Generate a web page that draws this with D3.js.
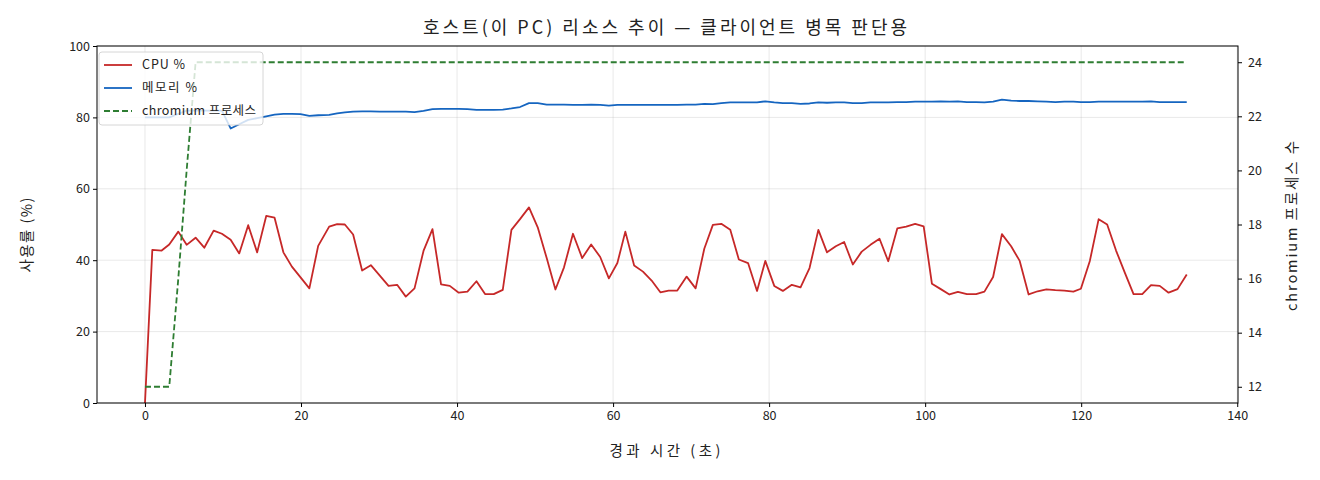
<!DOCTYPE html>
<html>
<head>
<meta charset="utf-8">
<script src="https://cdn.jsdelivr.net/npm/d3@7"></script>
<style>
  html, body { margin: 0; padding: 0; background: #fff; }
  svg text { font-family: "Noto Sans CJK KR", "Noto Sans", sans-serif; fill: #222; }
</style>
</head>
<body>
<svg id="chart" width="1320" height="480"></svg>
<script>
// ---- data ----
const times = [0.00,0.94,2.14,3.11,4.27,5.34,6.49,7.60,8.80,9.86,10.98,12.08,13.23,14.38,15.54,16.61,17.74,18.83,19.94,21.07,
  22.20,23.61,24.63,25.62,26.68,27.83,28.95,30.10,31.22,32.32,33.43,34.55,35.70,36.85,37.95,39.07,40.22,41.33,42.49,43.59,
  44.70,45.86,46.97,48.07,49.22,50.34,51.49,52.61,53.71,54.86,56.04,57.19,58.35,59.46,60.55,61.57,62.70,63.83,64.94,66.06,
  67.12,68.23,69.43,70.58,71.69,72.79,73.87,75.02,76.12,77.30,78.45,79.51,80.66,81.76,82.91,84.03,85.18,86.31,87.42,88.55,
  89.62,90.73,91.87,92.99,94.15,95.27,96.43,97.57,98.72,99.81,100.87,102.00,103.11,104.20,105.35,106.53,107.60,108.71,109.84,111.02,
  112.12,113.26,114.42,115.54,116.69,117.84,119.00,119.96,121.11,122.24,123.33,124.47,125.59,126.71,127.83,128.95,130.07,131.20,132.35,133.53];

const cpu = [0,42.9,42.7,44.4,48.0,44.3,46.3,43.5,48.3,47.4,45.7,41.9,49.8,42.2,52.4,51.9,42.2,38.2,35.2,32.1,
  44.0,49.4,50.1,50.0,47.2,37.1,38.6,35.7,32.8,33.1,29.8,32.1,42.6,48.7,33.2,32.8,30.9,31.2,34.1,30.5,
  30.5,31.7,48.5,51.5,54.8,49.2,40.6,31.8,38.0,47.4,40.6,44.4,40.9,34.9,39.2,48.0,38.5,36.8,34.3,31.0,
  31.5,31.5,35.4,32.1,43.2,49.9,50.2,48.5,40.2,39.2,31.4,39.8,32.8,31.4,33.1,32.4,37.8,48.5,42.2,43.9,
  45.1,38.8,42.4,44.3,46.0,39.7,48.9,49.4,50.2,49.5,33.4,31.9,30.4,31.1,30.5,30.5,31.2,35.3,47.3,43.9,
  39.8,30.4,31.3,31.8,31.6,31.5,31.2,32.0,39.8,51.5,50.0,42.7,36.5,30.5,30.5,33.0,32.8,30.9,31.9,36.0];

const memory = [80.0,80.0,80.0,80.0,81.0,81.9,81.9,81.9,81.9,81.9,76.9,78.1,79.3,79.8,80.3,80.8,81.0,81.0,80.9,80.4,
  80.6,80.7,81.1,81.4,81.6,81.7,81.7,81.6,81.6,81.6,81.6,81.5,81.8,82.3,82.4,82.4,82.4,82.3,82.1,82.1,
  82.1,82.2,82.5,82.9,84.0,84.0,83.6,83.6,83.6,83.5,83.5,83.6,83.5,83.3,83.5,83.5,83.5,83.5,83.5,83.5,
  83.5,83.5,83.6,83.6,83.8,83.7,84.0,84.2,84.2,84.2,84.2,84.5,84.2,84.0,84.0,83.8,83.9,84.2,84.1,84.2,
  84.2,84.0,84.0,84.2,84.2,84.2,84.3,84.3,84.4,84.4,84.4,84.5,84.4,84.5,84.3,84.3,84.2,84.4,85.0,84.7,
  84.6,84.6,84.5,84.4,84.3,84.4,84.4,84.3,84.3,84.4,84.4,84.4,84.4,84.4,84.4,84.5,84.3,84.3,84.3,84.3];

const procs = [12,12,12,12,16,20,24,24,24,24,24,24,24,24,24,24,24,24,24,24,
  24,24,24,24,24,24,24,24,24,24,24,24,24,24,24,24,24,24,24,24,
  24,24,24,24,24,24,24,24,24,24,24,24,24,24,24,24,24,24,24,24,
  24,24,24,24,24,24,24,24,24,24,24,24,24,24,24,24,24,24,24,24,
  24,24,24,24,24,24,24,24,24,24,24,24,24,24,24,24,24,24,24,24,
  24,24,24,24,24,24,24,24,24,24,24,24,24,24,24,24,24,24,24,24];

const xTicks = [0, 20, 40, 60, 80, 100, 120, 140];
const yLeftTicks = [0, 20, 40, 60, 80, 100];
const yRightTicks = [12, 14, 16, 18, 20, 22, 24];

const titleText = "호스트(이 PC) 리소스 추이 — 클라이언트 병목 판단용";
const xLabel = "경과 시간 (초)";
const yLeftLabel = "사용률 (%)";
const yRightLabel = "chromium 프로세스 수";
const seriesNames = ["CPU %", "메모리 %", "chromium 프로세스"];
const colors = ["#c62828", "#1565c0", "#2e7d32"];

// ---- layout ----
const L = 97, R = 1238, T = 46, B = 403;
const svg = d3.select("#chart");

const x = d3.scaleLinear().domain([-6.15, 140.1]).range([L, R]);
const yL = d3.scaleLinear().domain([0, 100]).range([B, T]);
const yR = d3.scaleLinear().domain([11.4, 24.6]).range([B, T]);

svg.append("defs").append("clipPath").attr("id", "clip")
  .append("rect").attr("x", L).attr("y", T).attr("width", R - L).attr("height", B - T);

// grid
const grid = svg.append("g");
grid.selectAll("line.gx").data(xTicks).enter().append("line")
  .attr("x1", d => x(d)).attr("x2", d => x(d)).attr("y1", T).attr("y2", B)
  .attr("stroke", "#b0b0b0").attr("stroke-opacity", 0.35).attr("stroke-width", 0.8);
grid.selectAll("line.gy").data(yLeftTicks).enter().append("line")
  .attr("x1", L).attr("x2", R).attr("y1", d => yL(d)).attr("y2", d => yL(d))
  .attr("stroke", "#b0b0b0").attr("stroke-opacity", 0.35).attr("stroke-width", 0.8);

const idx = d3.range(times.length);
const plot = svg.append("g").attr("clip-path", "url(#clip)");
const lineCpu = d3.line().x(i => x(times[i])).y(i => yL(cpu[i]));
const lineMem = d3.line().x(i => x(times[i])).y(i => yL(memory[i]));
const lineProc = d3.line().x(i => x(times[i])).y(i => yR(procs[i]));

plot.append("path").attr("d", lineCpu(idx)).attr("fill", "none")
  .attr("stroke", colors[0]).attr("stroke-width", 1.8).attr("stroke-linejoin", "round");
plot.append("path").attr("d", lineMem(idx)).attr("fill", "none")
  .attr("stroke", colors[1]).attr("stroke-width", 1.8).attr("stroke-linejoin", "round");

// legend (on primary axes, below the secondary line)
const legendWidths = [43, 55, 114];
const lg = svg.append("g").attr("transform", `translate(99,52)`);
lg.append("rect").attr("x", 0).attr("y", 0).attr("width", 164).attr("height", 73)
  .attr("rx", 3).attr("fill", "#fff").attr("fill-opacity", 0.8)
  .attr("stroke", "#cccccc").attr("stroke-width", 0.8);
seriesNames.forEach((name, i) => {
  const yy = 13 + i * 23;
  lg.append("line").attr("x1", 5).attr("x2", 33).attr("y1", yy).attr("y2", yy)
    .attr("stroke", colors[i]).attr("stroke-width", 1.8)
    .attr("stroke-dasharray", i === 2 ? "6,3" : null);
  lg.append("text").attr("x", 43).attr("y", yy).attr("dy", "0.35em")
    .attr("font-size", 12.5).attr("textLength", legendWidths[i])
    .attr("lengthAdjust", "spacing").text(name);
});

plot.append("path").attr("d", lineProc(idx)).attr("fill", "none")
  .attr("stroke", colors[2]).attr("stroke-width", 1.8).attr("stroke-dasharray", "6,3");

// frame
svg.append("rect").attr("x", L).attr("y", T).attr("width", R - L).attr("height", B - T)
  .attr("fill", "none").attr("stroke", "#000").attr("stroke-width", 1);

// axes
function styleAxis(g) {
  g.select(".domain").remove();
  g.selectAll(".tick line").attr("stroke", "#000");
  g.selectAll(".tick text").attr("font-size", 12.5).attr("fill", "#222")
    .style("font-family", '"Noto Sans CJK KR", sans-serif');
}
svg.append("g").attr("transform", `translate(0,${B})`)
  .call(d3.axisBottom(x).tickValues(xTicks).tickSize(4).tickPadding(4).tickFormat(d3.format("d")))
  .call(styleAxis);
svg.append("g").attr("transform", `translate(${L},0)`)
  .call(d3.axisLeft(yL).tickValues(yLeftTicks).tickSize(4).tickPadding(3).tickFormat(d3.format("d")))
  .call(styleAxis);
svg.append("g").attr("transform", `translate(${R},0)`)
  .call(d3.axisRight(yR).tickValues(yRightTicks).tickSize(4).tickPadding(6).tickFormat(d3.format("d")))
  .call(styleAxis);

// labels
svg.append("text").attr("x", 665).attr("y", 34).attr("text-anchor", "middle")
  .attr("font-size", 18).attr("textLength", 484).attr("lengthAdjust", "spacing").text(titleText);
svg.append("text").attr("x", 665).attr("y", 456).attr("text-anchor", "middle")
  .attr("font-size", 14.5).attr("textLength", 111).attr("lengthAdjust", "spacing").text(xLabel);
svg.append("text").attr("transform", `translate(32,235) rotate(-90)`)
  .attr("text-anchor", "middle").attr("font-size", 14.5)
  .attr("textLength", 75).attr("lengthAdjust", "spacing").text(yLeftLabel);
svg.append("text").attr("transform", `translate(1297,226) rotate(-90)`)
  .attr("text-anchor", "middle").attr("font-size", 14.5)
  .attr("textLength", 170).attr("lengthAdjust", "spacing").text(yRightLabel);
</script>
</body>
</html>
